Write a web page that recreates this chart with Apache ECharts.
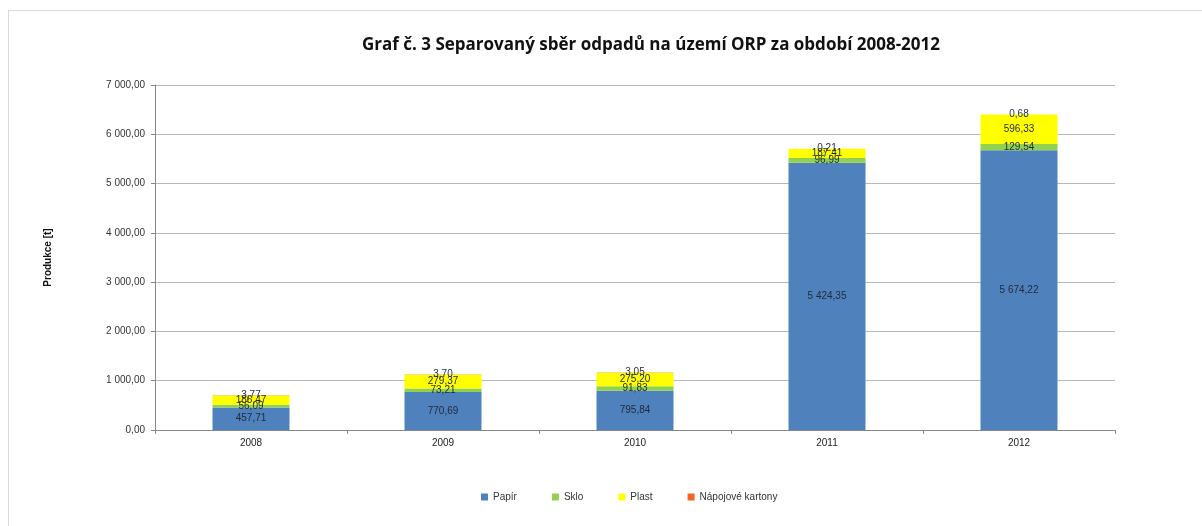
<!DOCTYPE html>
<html>
<head>
<meta charset="utf-8">
<script src="https://cdn.jsdelivr.net/npm/echarts@6/dist/echarts.min.js"></script>
<style>
    html, body { margin: 0; padding: 0; background: #fff; }
    #frame { position: absolute; left: 8px; top: 10px; width: 1200px; height: 520px; border-top: 1px solid #d9d9d9; border-left: 1px solid #d9d9d9; }
    #chart { width: 1202px; height: 526px; }
</style>
</head>
<body>
<div id="frame"></div>
<div id="chart"></div>
<script>
// data
const years = ['2008', '2009', '2010', '2011', '2012'];
const papir = [457.71, 770.69, 795.84, 5424.35, 5674.22];
const sklo = [56.09, 73.21, 91.83, 96.99, 129.54];
const plast = [186.47, 279.37, 275.20, 187.41, 596.33];
const kartony = [3.77, 3.70, 3.05, 0.21, 0.68];
const yTicks = [0, 1000, 2000, 3000, 4000, 5000, 6000, 7000];

// 5424.35 -> "5 424,35"
function fmt(v) {
    let parts = v.toFixed(2).split('.');
    parts[0] = parts[0].replace(/\B(?=(\d{3})+(?!\d))/g, ' ');
    return parts.join(',');
}

let chart = echarts.init(document.getElementById('chart'));

function makeSeries(name, data, color) {
    return {
        name: name,
        type: 'bar',
        stack: 'total',
        barWidth: 77,
        data: data,
        itemStyle: { color: color },
        label: {
            show: true,
            position: 'inside',
            color: '#1f2a3a',
            fontSize: 10,
            fontFamily: 'Liberation Sans',
            formatter: function(p) { return fmt(p.value); }
        }
    };
}

let option = {
    animation: false,
    title: {
        text: 'Graf č. 3 Separovaný sběr odpadů na území ORP za období 2008-2012',
        left: 646,
        textAlign: 'center',
        top: 32,
        textStyle: { fontSize: 17, fontWeight: 'bold', color: '#111', fontFamily: 'Open Sans' }
    },
    legend: {
        bottom: 19,
        left: 476,
        itemWidth: 7,
        itemHeight: 7,
        itemGap: 35,
        icon: 'rect',
        textStyle: { fontSize: 10, color: '#333', fontFamily: 'Liberation Sans' },
        data: ['Papír', 'Sklo', 'Plast', 'Nápojové kartony']
    },
    grid: { left: 155, right: 87, top: 85, bottom: 96 },
    xAxis: {
        type: 'category',
        data: years,
        axisLine: { lineStyle: { color: '#888' } },
        axisTick: { show: true, length: 4, lineStyle: { color: '#888' } },
        axisLabel: { fontSize: 10, color: '#222', margin: 8, fontFamily: 'Liberation Sans' }
    },
    yAxis: {
        type: 'value',
        min: yTicks[0],
        max: yTicks[yTicks.length - 1],
        interval: 1000,
        name: 'Produkce [t]',
        nameLocation: 'middle',
        nameGap: 102,
        nameRotate: 90,
        nameTextStyle: { fontSize: 10, fontWeight: 'bold', color: '#111', fontFamily: 'Liberation Sans' },
        axisLine: { show: true, lineStyle: { color: '#888' } },
        axisTick: { show: true, length: 4, lineStyle: { color: '#888' } },
        splitLine: { lineStyle: { color: '#b8b8b8' } },
        axisLabel: { fontSize: 10, color: '#333', margin: 10, fontFamily: 'Liberation Sans', formatter: fmt }
    },
    series: [
        makeSeries('Papír', papir, '#4f81bd'),
        makeSeries('Sklo', sklo, '#92d050'),
        makeSeries('Plast', plast, '#ffff00'),
        makeSeries('Nápojové kartony', kartony, '#f26522')
    ]
};
chart.setOption(option);
</script>
</body>
</html>
